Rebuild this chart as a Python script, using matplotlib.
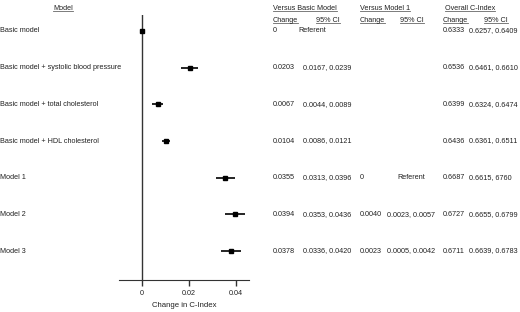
import matplotlib
matplotlib.use("Agg")
from matplotlib import pyplot as plt
from matplotlib.lines import Line2D
import matplotlib.transforms as mtransforms

plt.rcParams['font.family'] = ['Liberation Sans', 'DejaVu Sans']

models = ["Basic model", "Basic model + systolic blood pressure", "Basic model + total cholesterol",
          "Basic model + HDL cholesterol", "Model 1", "Model 2", "Model 3"]
change = [0, 0.0203, 0.0067, 0.0104, 0.0355, 0.0394, 0.0378]
ci_low = [0, 0.0167, 0.0044, 0.0086, 0.0313, 0.0353, 0.0336]
ci_high = [0, 0.0239, 0.0089, 0.0121, 0.0396, 0.0436, 0.0420]

vs_basic_change = ["0", "0.0203", "0.0067", "0.0104", "0.0355", "0.0394", "0.0378"]
vs_basic_ci = ["Referent", "0.0167, 0.0239", "0.0044, 0.0089", "0.0086, 0.0121",
               "0.0313, 0.0396", "0.0353, 0.0436", "0.0336, 0.0420"]
vs_m1_change = ["", "", "", "", "0", "0.0040", "0.0023"]
vs_m1_ci = ["", "", "", "", "Referent", "0.0023, 0.0057", "0.0005, 0.0042"]
overall = ["0.6333", "0.6536", "0.6399", "0.6436", "0.6687", "0.6727", "0.6711"]
overall_ci = ["0.6257, 0.6409", "0.6461, 0.6610", "0.6324, 0.6474", "0.6361, 0.6511",
              "0.6615, 6760", "0.6655, 0.6799", "0.6639, 0.6783"]

W, H = 520, 312
fig = plt.figure(figsize=(W / 100, H / 100), dpi=100)
ax = fig.add_axes([119 / W, 1 - 280 / H, 130 / W, 265 / H])

ypos = [-i for i in range(len(models))]
xerr = [[c - l for c, l in zip(change, ci_low)], [h - c for c, h in zip(change, ci_high)]]
ax.errorbar(change, ypos, xerr=xerr, fmt='s', color='black', ms=3, elinewidth=1.2, capsize=0)
ax.axvline(0, color='#333333', lw=1)

ax.set_xlim(-0.0098, 0.0455)
ax.set_ylim(-6.79, 0.436)
ax.set_xticks([0, 0.02, 0.04])
ax.set_xticklabels(["0", "0.02", "0.04"])
ax.set_yticks([])
for s in ['left', 'right', 'top']:
    ax.spines[s].set_visible(False)
ax.spines['bottom'].set_color('#333333')
ax.tick_params(axis='x', length=4, width=1, color='#333333', labelsize=5.2, pad=3,
               labelcolor='#222222')
ax.set_xlabel("Change in C-Index", fontsize=5.6, labelpad=4, color='#222222')

fs = 5.2
tc = '#222222'
trans = mtransforms.blended_transform_factory(fig.transFigure, ax.transData)

def col(xpix, values, ref_x=None):
    for y, v in zip(ypos, values):
        x = ref_x if (v == "Referent" and ref_x is not None) else xpix
        ax.text(x / W, y, v, transform=trans, fontsize=fs, ha='left', va='center',
                clip_on=False, color=tc)

col(0, models)
col(273, vs_basic_change)
col(303, vs_basic_ci, ref_x=298)
col(360, vs_m1_change)
col(387, vs_m1_ci, ref_x=397)
col(443, overall)
col(469, overall_ci)

headers = []
def head(xpix, ypix, s, ha='left'):
    t = fig.text(xpix / W, 1 - ypix / H, s, fontsize=fs, ha=ha, va='center', color=tc)
    headers.append(t)

head(63, 8, "Model", ha='center')
head(273, 8, "Versus Basic Model")
head(360, 8, "Versus Model 1")
head(445, 8, "Overall C-Index")
for x, s in [(273, "Change"), (316, "95% CI"), (360, "Change"), (400, "95% CI"),
             (443, "Change"), (484, "95% CI")]:
    head(x, 20, s)

fig.canvas.draw()
r = fig.canvas.get_renderer()
for t in headers:
    bb = t.get_window_extent(r).transformed(fig.transFigure.inverted())
    fig.add_artist(Line2D([bb.x0, bb.x1], [bb.y0 + 0.002, bb.y0 + 0.002],
                          transform=fig.transFigure, color='#666666', lw=0.6))

fig.savefig("out.png", dpi=100)
